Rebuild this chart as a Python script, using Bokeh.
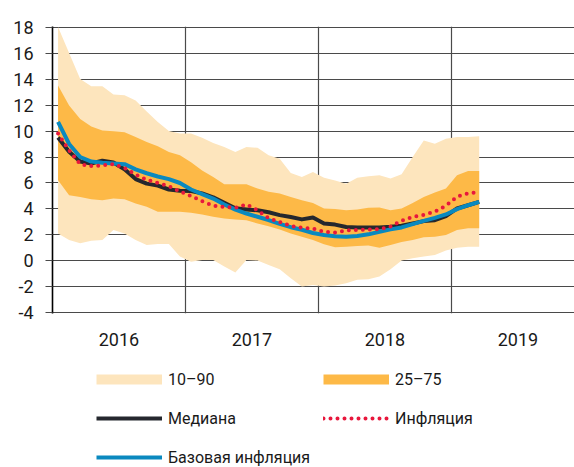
import pandas as pd
from bokeh.plotting import figure
from bokeh.layouts import column
from bokeh.models import Range1d, FixedTicker, Legend, LegendItem
from bokeh.embed import file_html
from bokeh.resources import INLINE

# ---- data ----
months = pd.period_range("2016-01", "2019-03", freq="M")
years = ["2016", "2017", "2018", "2019"]
y_ticks = [-4, -2, 0, 2, 4, 6, 8, 10, 12, 14, 16, 18]

p90 = [18.0, 16.0, 14.0, 13.45, 13.45, 12.8, 12.75, 12.35, 11.5, 10.7, 10.0, 9.8, 9.8,
       9.48, 9.07, 8.76, 8.38, 8.76, 8.71, 8.13, 7.87, 6.77, 6.47, 6.85, 6.41, 6.2,
       5.95, 6.41, 6.52, 6.59, 6.34, 6.67, 8.0, 9.27, 9.02, 9.4, 9.53, 9.53, 9.6]
p75 = [13.5, 11.96, 10.93, 10.35, 10.04, 9.99, 9.91, 9.53, 9.15, 8.82, 8.38, 8.13, 7.6,
       6.97, 6.47, 5.9, 5.9, 5.9, 5.57, 5.32, 5.19, 4.93, 4.68, 4.47, 4.04, 4.0,
       3.91, 3.96, 4.09, 4.11, 3.91, 4.04, 4.47, 4.93, 5.26, 5.57, 6.59, 6.92, 6.92]
p25 = [6.21, 5.06, 4.93, 4.75, 4.68, 4.81, 4.75, 4.42, 4.17, 3.78, 3.78, 3.78, 3.71,
       3.58, 3.4, 3.27, 3.2, 3.14, 2.89, 2.68, 2.43, 2.12, 1.87, 1.61, 1.28, 1.05,
       1.1, 1.15, 1.2, 1.02, 1.23, 1.46, 1.61, 1.82, 1.87, 2.0, 2.38, 2.51, 2.51]
p10 = [2.12, 1.61, 1.36, 1.56, 1.61, 2.38, 2.12, 1.61, 1.23, 1.31, 1.31, 0.34, -0.05,
       0.08, 0.08, -0.43, -0.89, 0.08, 0.03, -0.3, -0.64, -1.33, -1.96, -1.84, -1.96, -1.88,
       -1.71, -1.45, -1.4, -1.2, -0.64, 0.03, 0.21, 0.34, 0.46, 0.8, 1.02, 1.1, 1.1]
median = [9.5, 8.4, 7.65, 7.5, 7.72, 7.58, 7.05, 6.3, 5.95, 5.8, 5.5, 5.4, 5.38,
          5.2, 4.9, 4.47, 4.05, 3.97, 3.9, 3.75, 3.53, 3.38, 3.2, 3.35, 2.89, 2.8,
          2.61, 2.58, 2.58, 2.58, 2.63, 2.71, 2.89, 3.07, 3.14, 3.45, 4.04, 4.29, 4.55]
inflation = [9.8, 8.5, 7.45, 7.3, 7.35, 7.45, 7.15, 6.65, 6.25, 6.0, 5.75, 5.35, 5.0,
             4.6, 4.25, 4.15, 4.1, 4.35, 3.9, 3.3, 3.0, 2.7, 2.55, 2.5, 2.25, 2.2,
             2.35, 2.4, 2.42, 2.45, 2.65, 3.1, 3.4, 3.55, 3.8, 4.25, 4.95, 5.2, 5.3]
core = [10.7, 9.0, 8.0, 7.65, 7.55, 7.5, 7.45, 7.05, 6.75, 6.5, 6.3, 6.0, 5.5,
        5.15, 4.8, 4.35, 3.95, 3.65, 3.4, 3.15, 2.85, 2.6, 2.4, 2.15, 2.0, 1.9,
        1.87, 1.92, 2.05, 2.25, 2.43, 2.58, 2.84, 3.09, 3.32, 3.58, 3.99, 4.29, 4.55]

labels = ["10–90", "25–75", "Медиана", "Инфляция", "Базовая инфляция"]

# month index (mid-month) on a numeric axis counted from Jan 2016
x = [(m.year - 2016) * 12 + m.month - 0.5 for m in months]
year_centers = [12 * i + 6 for i in range(len(years))]
year_bounds = [12 * i for i in range(1, len(years))]

FONT = "Roboto"
LIGHT = "#FDE5BD"
ORANGE = "#FDB947"
BLACK = "#25282E"
BLUE = "#0A89BF"
RED = "#E8173C"
GRID = "#4a4a4a"
TXT = "#1a1a1a"

p = figure(width=574, height=349, x_range=Range1d(0, 47.1), y_range=Range1d(-4.04, 18.04),
           toolbar_location=None, output_backend="svg",
           min_border_left=52, min_border_right=0, min_border_top=26, min_border_bottom=36)
p.outline_line_color = None
p.background_fill_color = "white"

# grid
p.xgrid.ticker = FixedTicker(ticks=year_bounds)
p.ygrid.ticker = FixedTicker(ticks=y_ticks)
for g in (p.xgrid[0], p.ygrid[0]):
    g.grid_line_color = GRID
    g.grid_line_width = 1.2

# y axis
p.yaxis.ticker = FixedTicker(ticks=y_ticks)
p.yaxis.major_label_overrides = {t: str(t) for t in y_ticks}
p.yaxis.axis_line_color = "black"
p.yaxis.axis_line_width = 1.6
p.yaxis.major_tick_in = 0
p.yaxis.major_tick_out = 7
p.yaxis.major_tick_line_color = GRID
p.yaxis.major_tick_line_width = 1.2
p.yaxis.minor_tick_line_color = None
p.yaxis.major_label_standoff = 12
p.yaxis.major_label_text_font = FONT
p.yaxis.major_label_text_font_size = "18px"
p.yaxis.major_label_text_color = TXT

# x axis (year labels centred in each year)
p.xaxis.ticker = FixedTicker(ticks=year_centers)
p.xaxis.major_label_overrides = {c: y for c, y in zip(year_centers, years)}
p.xaxis.axis_line_color = None
p.xaxis.major_tick_line_color = None
p.xaxis.minor_tick_line_color = None
p.xaxis.major_label_standoff = 13
p.xaxis.major_label_text_font = FONT
p.xaxis.major_label_text_font_size = "18px"
p.xaxis.major_label_text_color = TXT

# bands
p.varea(x=x, y1=p10, y2=p90, fill_color=LIGHT)
p.varea(x=x, y1=p25, y2=p75, fill_color=ORANGE)

# lines
p.line(x=x, y=median, line_color=BLACK, line_width=4, line_join="round")
p.line(x=x, y=core, line_color=BLUE, line_width=4, line_join="round")
p.line(x=x, y=inflation, line_color=RED, line_width=4, line_dash="0 7", line_cap="round")

# ---- legend panel ----
lg = figure(width=574, height=118, x_range=Range1d(0, 1), y_range=Range1d(0, 1),
            toolbar_location=None, output_backend="svg",
            x_axis_location=None, y_axis_location=None,
            min_border_left=52, min_border_right=0, min_border_top=0, min_border_bottom=0)
lg.outline_line_color = None
lg.xgrid.visible = False
lg.ygrid.visible = False

nan = [float("nan")]
sw_light = lg.line(x=nan, y=nan, line_color=LIGHT, line_width=10)
sw_orange = lg.line(x=nan, y=nan, line_color=ORANGE, line_width=10)
sw_med = lg.line(x=nan, y=nan, line_color=BLACK, line_width=4)
sw_inf = lg.line(x=nan, y=nan, line_color=RED, line_width=4, line_dash="0 7", line_cap="round")
sw_core = lg.line(x=nan, y=nan, line_color=BLUE, line_width=4)

common = dict(glyph_width=66, glyph_height=20, label_height=20, label_standoff=6,
              spacing=19, padding=0, margin=0, border_line_color=None,
              background_fill_alpha=0, label_text_font=FONT,
              label_text_font_size="16px", label_text_color=TXT)

leg1 = Legend(items=[LegendItem(label=labels[0], renderers=[sw_light]),
                     LegendItem(label=labels[2], renderers=[sw_med]),
                     LegendItem(label=labels[4], renderers=[sw_core])],
              location=(44, 0), **common)
leg2 = Legend(items=[LegendItem(label=labels[1], renderers=[sw_orange]),
                     LegendItem(label=labels[3], renderers=[sw_inf])],
              location=(271, 39), **common)
lg.add_layout(leg1, "center")
lg.add_layout(leg2, "center")

open("out.html", "w").write(file_html(column(p, lg, spacing=0), INLINE))
